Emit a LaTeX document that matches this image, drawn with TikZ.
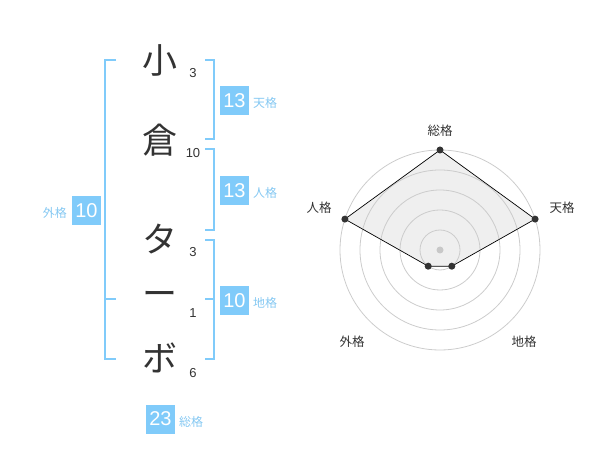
\documentclass[tikz,border=0pt]{standalone}
\usepackage{fontspec}
\setmainfont{Noto Sans CJK JP}
\newfontfamily\numfont{Liberation Sans}
\definecolor{ink}{HTML}{333333}
\definecolor{blu}{HTML}{80CBFA}
\definecolor{lbl}{HTML}{85C8F2}
\definecolor{ringc}{HTML}{CCCCCC}
\definecolor{polyfill}{HTML}{EFEFEF}
\definecolor{cdot}{HTML}{C8C8C8}
\begin{document}
\begin{tikzpicture}[x=1pt,y=-1pt,
  kanji/.style={font=\fontsize{35}{35}\selectfont, text=ink, inner sep=0},
  strokes/.style={font=\numfont\fontsize{13}{13}\selectfont, text=ink, inner sep=0},
  valbox/.style={fill=blu, text=white, minimum width=29pt, minimum height=29pt, inner sep=0, font=\numfont\fontsize{20}{20}\selectfont},
  kaku/.style={text=lbl, font=\fontsize{12}{12}\selectfont, inner sep=0},
  rlabel/.style={text=ink, font=\fontsize{12.5}{12.5}\selectfont, inner sep=0},
  brk/.style={draw=blu, line width=2pt},
  ring/.style={draw=ringc, line width=0.8pt},
  vdot/.style={circle, fill=ink, inner sep=0, minimum size=7pt},
]
\useasboundingbox (0,0) rectangle (600,470);
% characters
\node[kanji] (k1) at (160,60) {小};
\node[kanji] (k2) at (160,140) {倉};
\node[kanji] (k3) at (160,239) {タ};
\node[kanji] (k4) at (160,299) {ー};
\node[kanji] (k5) at (160,358) {ボ};
\node[strokes] (s1) at (193,73) {3};
\node[strokes] (s2) at (193,153) {10};
\node[strokes] (s3) at (193,252) {3};
\node[strokes] (s4) at (193,313) {1};
\node[strokes] (s5) at (193,373) {6};
% brackets
\draw[brk] (116,60) -- (105,60) -- (105,359) -- (116,359);
\draw[brk] (105,299) -- (116,299);
\draw[brk] (205,60) -- (214,60) -- (214,139) -- (205,139);
\draw[brk] (205,149) -- (214,149) -- (214,230) -- (205,230);
\draw[brk] (205,240) -- (214,240) -- (214,359) -- (205,359);
\draw[brk] (205,299) -- (214,299);
% value boxes
\node[valbox] (ten) at (234.5,100.5) {13};
\node[kaku, anchor=west] (tenl) at (253,103) {天格};
\node[valbox] (jin) at (234.5,190.5) {13};
\node[kaku, anchor=west] (jinl) at (253,193) {人格};
\node[valbox] (chi) at (234.5,300.5) {10};
\node[kaku, anchor=west] (chil) at (253,303) {地格};
\node[valbox] (gai) at (86.5,210.5) {10};
\node[kaku, anchor=east] (gail) at (67,213) {外格};
\node[valbox] (sou) at (160.5,419) {23};
\node[kaku, anchor=west] (soul) at (179,422) {総格};
% radar
\coordinate (c) at (440,250);
\coordinate (pS) at (440,150);
\coordinate (pT) at (535.1,219.1);
\coordinate (pC) at (451.8,266.2);
\coordinate (pG) at (428.2,266.2);
\coordinate (pJ) at (344.9,219.1);
\fill[polyfill] (pS) -- (pT) -- (pC) -- (pG) -- (pJ) -- cycle;
\foreach \r in {20,40,60,80,100} \draw[ring] (c) circle[radius=\r];
\draw[black, line width=0.7pt] (pS) -- (pT) -- (pC) -- (pG) -- (pJ) -- cycle;
\fill[cdot] (c) circle[radius=3.5];
\foreach \p in {pS,pT,pC,pG,pJ} \node[vdot] at (\p) {};
\node[rlabel] (lS) at (440,131) {総格};
\node[rlabel] (lT) at (562,208) {天格};
\node[rlabel] (lJ) at (319,208) {人格};
\node[rlabel] (lG) at (352,342) {外格};
\node[rlabel] (lC) at (524,342) {地格};
\end{tikzpicture}
\end{document}
